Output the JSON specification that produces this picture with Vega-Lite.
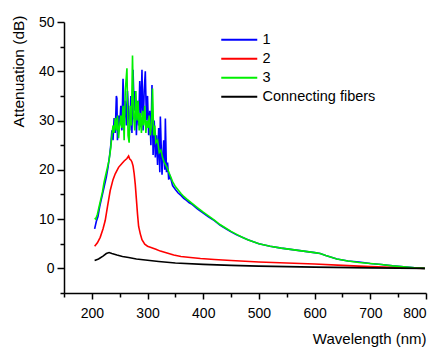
{
  "$schema": "https://vega.github.io/schema/vega-lite/v6.json",
  "autosize": {"type": "none"},
  "padding": {"left": 64, "top": 22, "right": 13, "bottom": 56},
  "width": 362,
  "height": 271,
  "background": "white",
  "config": {
    "view": {"stroke": null},
    "font": "Liberation Sans",
    "axis": {
      "grid": false,
      "domainColor": "#000000",
      "domainWidth": 1.5,
      "tickColor": "#000000",
      "tickWidth": 1.5,
      "labelColor": "#000000",
      "labelFont": "Liberation Sans",
      "labelFontSize": 14,
      "titleFont": "Liberation Sans",
      "titleFontSize": 15,
      "titleFontWeight": "normal",
      "titleColor": "#000000"
    },
    "legend": {
      "labelFont": "Liberation Sans",
      "labelFontSize": 14.5,
      "labelColor": "#000000"
    }
  },
  "data": {"values": [
    {"w": 205, "a": 8.0, "s": "1"}, {"w": 208, "a": 9.5, "s": "1"}, {"w": 211, "a": 10.5, "s": "1"}, {"w": 214, "a": 12.5, "s": "1"}, {"w": 217, "a": 14.0, "s": "1"}, {"w": 220, "a": 15.5, "s": "1"}, {"w": 223, "a": 17.0, "s": "1"}, {"w": 226, "a": 18.5, "s": "1"}, {"w": 229, "a": 20.5, "s": "1"}, {"w": 232, "a": 23.0, "s": "1"}, {"w": 234, "a": 25.0, "s": "1"}, {"w": 236, "a": 28.0, "s": "1"}, {"w": 238, "a": 26.0, "s": "1"}, {"w": 240, "a": 30.5, "s": "1"}, {"w": 242, "a": 27.5, "s": "1"}, {"w": 244, "a": 35.0, "s": "1"}, {"w": 245, "a": 34.5, "s": "1"}, {"w": 246, "a": 26.0, "s": "1"}, {"w": 248, "a": 31.0, "s": "1"}, {"w": 250, "a": 29.0, "s": "1"}, {"w": 252, "a": 33.0, "s": "1"}, {"w": 254, "a": 28.0, "s": "1"}, {"w": 256, "a": 38.5, "s": "1"}, {"w": 258, "a": 30.0, "s": "1"}, {"w": 260, "a": 34.0, "s": "1"}, {"w": 262, "a": 29.0, "s": "1"}, {"w": 264, "a": 36.0, "s": "1"}, {"w": 266, "a": 31.0, "s": "1"}, {"w": 268, "a": 28.0, "s": "1"}, {"w": 270, "a": 35.0, "s": "1"}, {"w": 272, "a": 27.5, "s": "1"}, {"w": 274, "a": 40.3, "s": "1"}, {"w": 276, "a": 32.0, "s": "1"}, {"w": 278, "a": 36.0, "s": "1"}, {"w": 280, "a": 27.0, "s": "1"}, {"w": 282, "a": 34.0, "s": "1"}, {"w": 284, "a": 29.0, "s": "1"}, {"w": 286, "a": 38.0, "s": "1"}, {"w": 288, "a": 31.0, "s": "1"}, {"w": 290, "a": 40.3, "s": "1"}, {"w": 292, "a": 28.0, "s": "1"}, {"w": 294, "a": 36.0, "s": "1"}, {"w": 296, "a": 40.0, "s": "1"}, {"w": 298, "a": 30.0, "s": "1"}, {"w": 300, "a": 35.0, "s": "1"}, {"w": 302, "a": 27.0, "s": "1"}, {"w": 304, "a": 32.0, "s": "1"}, {"w": 306, "a": 25.0, "s": "1"}, {"w": 308, "a": 37.2, "s": "1"}, {"w": 310, "a": 23.0, "s": "1"}, {"w": 312, "a": 30.0, "s": "1"}, {"w": 314, "a": 22.5, "s": "1"}, {"w": 316, "a": 27.0, "s": "1"}, {"w": 318, "a": 21.0, "s": "1"}, {"w": 320, "a": 28.5, "s": "1"}, {"w": 322, "a": 19.5, "s": "1"}, {"w": 323, "a": 30.8, "s": "1"}, {"w": 326, "a": 19.0, "s": "1"}, {"w": 329, "a": 26.0, "s": "1"}, {"w": 331, "a": 20.0, "s": "1"}, {"w": 332, "a": 30.4, "s": "1"}, {"w": 334, "a": 19.5, "s": "1"}, {"w": 336, "a": 21.5, "s": "1"}, {"w": 338, "a": 18.0, "s": "1"}, {"w": 340, "a": 19.0, "s": "1"}, {"w": 345, "a": 16.8, "s": "1"}, {"w": 350, "a": 16.0, "s": "1"}, {"w": 355, "a": 15.3, "s": "1"}, {"w": 360, "a": 14.8, "s": "1"}, {"w": 365, "a": 14.2, "s": "1"}, {"w": 370, "a": 13.8, "s": "1"}, {"w": 375, "a": 13.3, "s": "1"}, {"w": 380, "a": 13.0, "s": "1"}, {"w": 390, "a": 12.0, "s": "1"}, {"w": 400, "a": 11.2, "s": "1"}, {"w": 410, "a": 10.4, "s": "1"}, {"w": 420, "a": 9.7, "s": "1"}, {"w": 430, "a": 8.8, "s": "1"}, {"w": 440, "a": 8.1, "s": "1"}, {"w": 450, "a": 7.4, "s": "1"}, {"w": 460, "a": 6.8, "s": "1"}, {"w": 470, "a": 6.3, "s": "1"}, {"w": 480, "a": 5.8, "s": "1"}, {"w": 490, "a": 5.4, "s": "1"}, {"w": 500, "a": 5.0, "s": "1"}, {"w": 520, "a": 4.5, "s": "1"}, {"w": 540, "a": 4.1, "s": "1"}, {"w": 560, "a": 3.8, "s": "1"}, {"w": 580, "a": 3.5, "s": "1"}, {"w": 600, "a": 3.2, "s": "1"}, {"w": 610, "a": 3.0, "s": "1"}, {"w": 620, "a": 2.6, "s": "1"}, {"w": 640, "a": 1.9, "s": "1"}, {"w": 660, "a": 1.5, "s": "1"}, {"w": 680, "a": 1.3, "s": "1"}, {"w": 700, "a": 1.0, "s": "1"}, {"w": 720, "a": 0.8, "s": "1"}, {"w": 740, "a": 0.5, "s": "1"}, {"w": 760, "a": 0.3, "s": "1"}, {"w": 780, "a": 0.1, "s": "1"}, {"w": 798, "a": 0.0, "s": "1"},

    {"w": 205, "a": 4.5, "s": "2"}, {"w": 210, "a": 5.2, "s": "2"}, {"w": 215, "a": 6.3, "s": "2"}, {"w": 220, "a": 8.0, "s": "2"}, {"w": 224, "a": 9.7, "s": "2"}, {"w": 228, "a": 12.5, "s": "2"}, {"w": 233, "a": 15.8, "s": "2"}, {"w": 238, "a": 18.0, "s": "2"}, {"w": 242, "a": 19.2, "s": "2"}, {"w": 248, "a": 20.5, "s": "2"}, {"w": 254, "a": 21.3, "s": "2"}, {"w": 258, "a": 21.8, "s": "2"}, {"w": 263, "a": 22.3, "s": "2"}, {"w": 266, "a": 22.8, "s": "2"}, {"w": 268, "a": 22.2, "s": "2"}, {"w": 270, "a": 22.0, "s": "2"}, {"w": 272, "a": 21.6, "s": "2"}, {"w": 274, "a": 20.8, "s": "2"}, {"w": 276, "a": 19.2, "s": "2"}, {"w": 278, "a": 17.0, "s": "2"}, {"w": 280, "a": 14.0, "s": "2"}, {"w": 282, "a": 11.0, "s": "2"}, {"w": 284, "a": 8.5, "s": "2"}, {"w": 287, "a": 7.0, "s": "2"}, {"w": 290, "a": 5.8, "s": "2"}, {"w": 295, "a": 4.9, "s": "2"}, {"w": 300, "a": 4.5, "s": "2"}, {"w": 305, "a": 4.3, "s": "2"}, {"w": 315, "a": 3.9, "s": "2"}, {"w": 323, "a": 3.5, "s": "2"}, {"w": 335, "a": 3.1, "s": "2"}, {"w": 347, "a": 2.7, "s": "2"}, {"w": 360, "a": 2.4, "s": "2"}, {"w": 377, "a": 2.2, "s": "2"}, {"w": 395, "a": 2.0, "s": "2"}, {"w": 420, "a": 1.8, "s": "2"}, {"w": 450, "a": 1.6, "s": "2"}, {"w": 500, "a": 1.3, "s": "2"}, {"w": 550, "a": 1.1, "s": "2"}, {"w": 600, "a": 0.9, "s": "2"}, {"w": 650, "a": 0.6, "s": "2"}, {"w": 700, "a": 0.35, "s": "2"}, {"w": 750, "a": 0.15, "s": "2"}, {"w": 798, "a": 0.0, "s": "2"},

    {"w": 205, "a": 10.2, "s": "3"}, {"w": 207, "a": 10.0, "s": "3"}, {"w": 210, "a": 11.0, "s": "3"}, {"w": 213, "a": 12.5, "s": "3"}, {"w": 216, "a": 14.0, "s": "3"}, {"w": 219, "a": 15.5, "s": "3"}, {"w": 222, "a": 17.5, "s": "3"}, {"w": 225, "a": 19.0, "s": "3"}, {"w": 228, "a": 20.5, "s": "3"}, {"w": 231, "a": 22.0, "s": "3"}, {"w": 234, "a": 24.5, "s": "3"}, {"w": 236, "a": 27.0, "s": "3"}, {"w": 238, "a": 29.0, "s": "3"}, {"w": 240, "a": 27.5, "s": "3"}, {"w": 242, "a": 30.5, "s": "3"}, {"w": 244, "a": 28.0, "s": "3"}, {"w": 246, "a": 31.0, "s": "3"}, {"w": 248, "a": 26.4, "s": "3"}, {"w": 250, "a": 29.0, "s": "3"}, {"w": 252, "a": 31.0, "s": "3"}, {"w": 254, "a": 28.5, "s": "3"}, {"w": 256, "a": 33.0, "s": "3"}, {"w": 258, "a": 26.0, "s": "3"}, {"w": 260, "a": 36.0, "s": "3"}, {"w": 263, "a": 40.6, "s": "3"}, {"w": 265, "a": 27.0, "s": "3"}, {"w": 267, "a": 25.5, "s": "3"}, {"w": 269, "a": 33.0, "s": "3"}, {"w": 271, "a": 29.0, "s": "3"}, {"w": 273, "a": 43.2, "s": "3"}, {"w": 275, "a": 31.0, "s": "3"}, {"w": 277, "a": 28.0, "s": "3"}, {"w": 279, "a": 36.0, "s": "3"}, {"w": 281, "a": 30.0, "s": "3"}, {"w": 283, "a": 34.0, "s": "3"}, {"w": 285, "a": 28.0, "s": "3"}, {"w": 287, "a": 31.5, "s": "3"}, {"w": 289, "a": 27.5, "s": "3"}, {"w": 291, "a": 32.0, "s": "3"}, {"w": 293, "a": 29.0, "s": "3"}, {"w": 295, "a": 33.0, "s": "3"}, {"w": 297, "a": 27.5, "s": "3"}, {"w": 299, "a": 30.0, "s": "3"}, {"w": 301, "a": 28.5, "s": "3"}, {"w": 303, "a": 31.0, "s": "3"}, {"w": 305, "a": 27.0, "s": "3"}, {"w": 307, "a": 29.0, "s": "3"}, {"w": 309, "a": 36.5, "s": "3"}, {"w": 311, "a": 27.0, "s": "3"}, {"w": 313, "a": 29.0, "s": "3"}, {"w": 315, "a": 25.5, "s": "3"}, {"w": 318, "a": 26.0, "s": "3"}, {"w": 321, "a": 23.5, "s": "3"}, {"w": 324, "a": 24.0, "s": "3"}, {"w": 327, "a": 22.5, "s": "3"}, {"w": 330, "a": 21.5, "s": "3"}, {"w": 335, "a": 20.5, "s": "3"}, {"w": 340, "a": 19.0, "s": "3"}, {"w": 345, "a": 17.6, "s": "3"}, {"w": 350, "a": 16.6, "s": "3"}, {"w": 355, "a": 15.9, "s": "3"}, {"w": 360, "a": 15.2, "s": "3"}, {"w": 365, "a": 14.6, "s": "3"}, {"w": 370, "a": 14.1, "s": "3"}, {"w": 380, "a": 13.2, "s": "3"}, {"w": 390, "a": 12.3, "s": "3"}, {"w": 400, "a": 11.4, "s": "3"}, {"w": 410, "a": 10.6, "s": "3"}, {"w": 420, "a": 9.8, "s": "3"}, {"w": 430, "a": 8.9, "s": "3"}, {"w": 440, "a": 8.2, "s": "3"}, {"w": 450, "a": 7.5, "s": "3"}, {"w": 460, "a": 6.9, "s": "3"}, {"w": 470, "a": 6.3, "s": "3"}, {"w": 480, "a": 5.8, "s": "3"}, {"w": 490, "a": 5.4, "s": "3"}, {"w": 500, "a": 5.0, "s": "3"}, {"w": 520, "a": 4.5, "s": "3"}, {"w": 540, "a": 4.1, "s": "3"}, {"w": 560, "a": 3.8, "s": "3"}, {"w": 580, "a": 3.5, "s": "3"}, {"w": 600, "a": 3.2, "s": "3"}, {"w": 610, "a": 3.0, "s": "3"}, {"w": 620, "a": 2.6, "s": "3"}, {"w": 640, "a": 1.9, "s": "3"}, {"w": 660, "a": 1.5, "s": "3"}, {"w": 680, "a": 1.2, "s": "3"}, {"w": 700, "a": 1.0, "s": "3"}, {"w": 720, "a": 0.8, "s": "3"}, {"w": 740, "a": 0.5, "s": "3"}, {"w": 760, "a": 0.3, "s": "3"}, {"w": 780, "a": 0.1, "s": "3"}, {"w": 798, "a": 0.0, "s": "3"},

    {"w": 205, "a": 1.6, "s": "Connecting fibers"}, {"w": 212, "a": 1.9, "s": "Connecting fibers"}, {"w": 220, "a": 2.5, "s": "Connecting fibers"}, {"w": 226, "a": 3.0, "s": "Connecting fibers"}, {"w": 231, "a": 3.2, "s": "Connecting fibers"}, {"w": 236, "a": 3.0, "s": "Connecting fibers"}, {"w": 245, "a": 2.7, "s": "Connecting fibers"}, {"w": 255, "a": 2.4, "s": "Connecting fibers"}, {"w": 266, "a": 2.2, "s": "Connecting fibers"}, {"w": 280, "a": 1.9, "s": "Connecting fibers"}, {"w": 296, "a": 1.7, "s": "Connecting fibers"}, {"w": 320, "a": 1.4, "s": "Connecting fibers"}, {"w": 350, "a": 1.1, "s": "Connecting fibers"}, {"w": 400, "a": 0.8, "s": "Connecting fibers"}, {"w": 450, "a": 0.6, "s": "Connecting fibers"}, {"w": 500, "a": 0.45, "s": "Connecting fibers"}, {"w": 550, "a": 0.35, "s": "Connecting fibers"}, {"w": 600, "a": 0.25, "s": "Connecting fibers"}, {"w": 700, "a": 0.1, "s": "Connecting fibers"}, {"w": 798, "a": 0.0, "s": "Connecting fibers"}
  ]},
  "mark": {"type": "line", "strokeWidth": 1.6, "clip": true},
  "encoding": {
    "x": {
      "field": "w", "type": "quantitative",
      "scale": {"domain": [150, 800], "nice": false, "zero": false},
      "axis": {
        "title": "Wavelength (nm)",
        "titleAnchor": "end",
        "titlePadding": 11,
        "values": [150, 200, 250, 300, 350, 400, 450, 500, 550, 600, 650, 700, 750, 800],
        "labelExpr": "datum.value % 100 === 0 ? datum.label : ''",
        "labelPadding": 7,
        "tickSize": {"condition": {"test": "datum.value % 100 === 0", "value": 6}, "value": 4}
      }
    },
    "y": {
      "field": "a", "type": "quantitative",
      "scale": {"domain": [-5, 50], "nice": false, "zero": false},
      "axis": {
        "title": "Attenuation (dB)",
        "titleAnchor": "end",
        "titleFontSize": 15.5,
        "titleY": -7,
        "titlePadding": 12,
        "values": [-5, 0, 5, 10, 15, 20, 25, 30, 35, 40, 45, 50],
        "labelExpr": "datum.value % 10 === 0 ? datum.label : ''",
        "labelPadding": 3,
        "tickSize": {"condition": {"test": "datum.value % 10 === 0", "value": 7}, "value": 4}
      }
    },
    "color": {
      "field": "s", "type": "nominal",
      "scale": {"domain": ["1", "2", "3", "Connecting fibers"], "range": ["#0000ff", "#ff0000", "#00f000", "#000000"]},
      "legend": {
        "title": null,
        "orient": "none",
        "legendX": 168,
        "legendY": 10.5,
        "symbolType": "M-3,0H3",
        "symbolSize": 144,
        "symbolStrokeWidth": 2,
        "labelOffset": 16,
        "rowPadding": 4
      }
    }
  }
}
